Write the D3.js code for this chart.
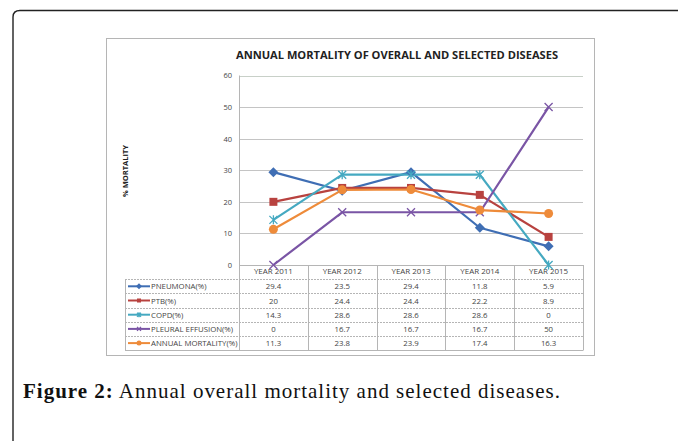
<!DOCTYPE html>
<html><head><meta charset="utf-8">
<script src="https://cdn.jsdelivr.net/npm/d3@7"></script>
<style>body{margin:0;background:#fff}svg{display:block}</style>
</head><body>
<svg id="c" width="678" height="441"></svg>
<script>
const years = ["YEAR 2011","YEAR 2012","YEAR 2013","YEAR 2014","YEAR 2015"];
const seriesNames = ["PNEUMONA(%)","PTB(%)","COPD(%)","PLEURAL EFFUSION(%)","ANNUAL MORTALITY(%)"];
const pneumonia = [29.4,23.5,29.4,11.8,5.9];
const ptb = [20,24.4,24.4,22.2,8.9];
const copd = [14.3,28.6,28.6,28.6,0];
const pleural = [0,16.7,16.7,16.7,50];
const annual = [11.3,23.8,23.9,17.4,16.3];
const yTicks = [0,10,20,30,40,50,60];
const colors = ["#3f6eb4","#b8423f","#45a9c1","#7a55a5","#ee8b3a"];
const markers = ["diamond","square","asterisk","x","circle"];
const series = [pneumonia,ptb,copd,pleural,annual];
const FONT = "Open Sans, Liberation Sans, sans-serif";

const svg = d3.select("#c");
svg.append("path").attr("d","M13,441 L13,17 Q13,10.5 20,10.5 L690,10.5").attr("fill","none").attr("stroke","#222").attr("stroke-width",1.4);
svg.append("rect").attr("x",106.5).attr("y",38.5).attr("width",488).attr("height",317).attr("fill","#fff").attr("stroke","#b5b5b5").attr("stroke-width",1);

const x0 = 239, x1 = 583;
const x = d3.scaleBand().domain(years).range([x0,x1]);
const y = d3.scaleLinear().domain([0,60]).range([265,75.5]);

svg.append("text").attr("x",397).attr("y",59).attr("text-anchor","middle")
  .attr("font-family",FONT).attr("font-weight","bold").attr("font-size",10)
  .attr("textLength",322).attr("lengthAdjust","spacingAndGlyphs").attr("fill","#222")
  .text("ANNUAL MORTALITY OF OVERALL AND SELECTED DISEASES");

svg.append("text").attr("transform","translate(128,171) rotate(-90)").attr("text-anchor","middle")
  .attr("font-family",FONT).attr("font-weight","bold").attr("font-size",7)
  .attr("textLength",52).attr("lengthAdjust","spacingAndGlyphs")
  .attr("fill","#222").text("% MORTALITY");

const g = svg.append("g");
g.selectAll("line.grid").data(yTicks.filter(d=>d>0)).join("line")
  .attr("x1",x0).attr("x2",x1).attr("y1",d=>Math.round(y(d))+0.5).attr("y2",d=>Math.round(y(d))+0.5)
  .attr("stroke",d=>d===60?"#c8d0c8":"#c4c4c4").attr("stroke-width",1);
const yAxis = d3.axisLeft(y).tickValues(yTicks).tickSize(0).tickPadding(7);
const ya = svg.append("g").attr("transform",`translate(${x0},0)`).call(yAxis);
ya.select(".domain").remove();
ya.selectAll("text").attr("font-family",FONT).attr("font-size",7.5).attr("fill","#444");
svg.append("line").attr("x1",x0+0.5).attr("x2",x0+0.5).attr("y1",75.5).attr("y2",265).attr("stroke","#b5b5b5");

const rowTop = 265, rowH = 14.2, legL = 125;
const t = svg.append("g");
const nRows = seriesNames.length;
t.append("line").attr("x1",x0).attr("x2",x1).attr("y1",rowTop+0.5).attr("y2",rowTop+0.5).attr("stroke","#b5b5b5");
d3.range(nRows+1).forEach(i=>{
  const yy = Math.round(rowTop+rowH*(i+1))+0.5;
  t.append("line").attr("x1",legL).attr("x2",x1).attr("y1",yy).attr("y2",yy).attr("stroke","#b5b5b5").attr("stroke-dasharray",i===nRows?null:"2,1");
});
const tableBottom = Math.round(rowTop+rowH*(nRows+1))+0.5;
t.append("line").attr("x1",legL+0.5).attr("x2",legL+0.5).attr("y1",Math.round(rowTop+rowH)+0.5).attr("y2",tableBottom).attr("stroke","#b5b5b5");
years.forEach((yr,i)=>{
  const xx = Math.round(x(yr))+0.5;
  t.append("line").attr("x1",xx).attr("x2",xx).attr("y1",rowTop).attr("y2",tableBottom).attr("stroke","#b5b5b5");
});
t.append("line").attr("x1",x1+0.5).attr("x2",x1+0.5).attr("y1",rowTop).attr("y2",tableBottom).attr("stroke","#b5b5b5");
const xAxis = d3.axisBottom(x).tickSize(0).tickPadding(3);
const xa = svg.append("g").attr("transform",`translate(0,${rowTop})`).call(xAxis);
xa.select(".domain").remove();
xa.selectAll("text").attr("font-family",FONT).attr("font-size",7.8).attr("fill","#444")
  .attr("textLength",39).attr("lengthAdjust","spacingAndGlyphs");
series.forEach((s,si)=>{
  const cy = rowTop+rowH*(si+1)+rowH/2;
  s.forEach((v,i)=>{
    t.append("text").attr("x",x(years[i])+x.bandwidth()/2).attr("y",cy+3).attr("text-anchor","middle")
      .attr("font-family",FONT).attr("font-size",7.8).attr("fill","#444").text(v);
  });
  t.append("text").attr("x",151).attr("y",cy+3).attr("font-family",FONT)
    .attr("font-size",7.8).attr("fill","#444").text(seriesNames[si]);
});

function drawMarker(sel, type, color, cx, cy, s){
  const h = s/2;
  if(type==="diamond") sel.append("path").attr("d",`M${cx},${cy-h-1}L${cx+h+1},${cy}L${cx},${cy+h+1}L${cx-h-1},${cy}Z`).attr("fill",color);
  else if(type==="square") sel.append("rect").attr("x",cx-h).attr("y",cy-h).attr("width",s).attr("height",s).attr("fill",color);
  else if(type==="circle") sel.append("circle").attr("cx",cx).attr("cy",cy).attr("r",h+0.5).attr("fill",color);
  else if(type==="x") sel.append("path").attr("d",`M${cx-h},${cy-h}L${cx+h},${cy+h}M${cx-h},${cy+h}L${cx+h},${cy-h}`).attr("stroke",color).attr("stroke-width",1.3);
  else if(type==="asterisk") sel.append("path").attr("d",`M${cx-h},${cy-h}L${cx+h},${cy+h}M${cx-h},${cy+h}L${cx+h},${cy-h}M${cx},${cy-h-0.5}L${cx},${cy+h+0.5}`).attr("stroke",color).attr("stroke-width",1.3);
}

series.forEach((s,si)=>{
  const cy = rowTop+rowH*(si+1)+rowH/2;
  svg.append("line").attr("x1",128).attr("x2",150).attr("y1",cy).attr("y2",cy).attr("stroke",colors[si]).attr("stroke-width",2);
  drawMarker(svg, markers[si], colors[si], 139, cy, 4);
});

const line = d3.line().x((d,i)=>x(years[i])+x.bandwidth()/2).y(d=>y(d));
series.forEach((s,si)=>{
  svg.append("path").datum(s).attr("d",line).attr("fill","none").attr("stroke",colors[si]).attr("stroke-width",2.2).attr("stroke-linejoin","round");
});
series.forEach((s,si)=>{
  const mg = svg.append("g");
  s.forEach((v,i)=>drawMarker(mg, markers[si], colors[si], x(years[i])+x.bandwidth()/2, y(v), 8));
});

const cap = svg.append("text").attr("x",23).attr("y",398).attr("font-family","Liberation Serif, DejaVu Serif, serif").attr("font-size",21).attr("fill","#111")
  .attr("textLength",537).attr("lengthAdjust","spacing");
cap.append("tspan").attr("font-weight","bold").text("Figure 2:");
cap.append("tspan").text(" Annual overall mortality and selected diseases.");
</script>
</body></html>
